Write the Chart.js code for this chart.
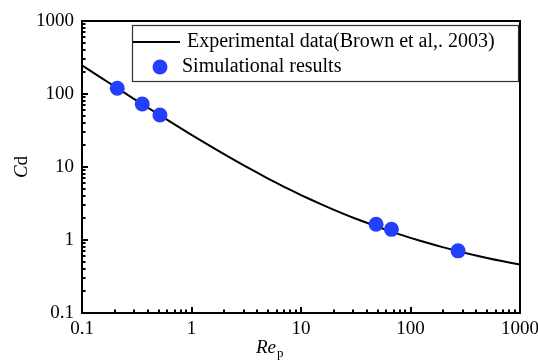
<!DOCTYPE html>
<html lang="en">
<head>
    <meta charset="UTF-8">
    <title>Cd vs Rep</title>
    <script src="https://cdn.jsdelivr.net/npm/chart.js@4.4.1/dist/chart.umd.min.js"></script>
    <style>
        html, body { margin: 0; padding: 0; background: #fff; }
        #wrap { width: 538px; height: 360px; }
    </style>
</head>
<body>
<div id="wrap"><canvas id="cdchart" width="538" height="360"></canvas></div>
<script>
// experimental curve (Brown et al., 2003)
const reCurve = [0.1, 0.15, 0.2, 0.3, 0.5, 0.7, 1, 1.5, 2, 3, 5, 7, 10, 15, 20, 30, 50, 70, 100, 150, 200, 300, 500, 700, 1000];
const cdCurve = [247.5, 166.6, 126.0, 85.3, 52.5, 38.3, 27.6, 19.16, 14.89, 10.54, 6.95, 5.36, 4.13, 3.12, 2.59, 2.02, 1.52, 1.27, 1.07, 0.895, 0.793, 0.677, 0.566, 0.510, 0.463];

// simulation points
const reSim = [0.21, 0.355, 0.515, 48.5, 67, 272];
const cdSim = [120, 73, 51.5, 1.64, 1.40, 0.71];

// axis ticks
const xMajor = [0.1, 1, 10, 100, 1000];
const xTickLabels = ['0.1', '1', '10', '100', '1000'];
const yMajor = [0.1, 1, 10, 100, 1000];
const yTickLabels = ['0.1', '1', '10', '100', '1000'];

const serif = '"Liberation Serif", "Times New Roman", serif';
const blue = '#2240fb';

function allTicks(majors) {
    var out = [];
    for (var i = 0; i < majors.length; i++) {
        out.push(majors[i]);
        if (i < majors.length - 1) {
            for (var k = 2; k <= 9; k++) out.push(Number((majors[i] * k).toPrecision(3)));
        }
    }
    return out;
}

function majorIndex(majors, v) {
    for (var i = 0; i < majors.length; i++) {
        if (Math.abs(v - majors[i]) / majors[i] < 1e-6) return i;
    }
    return -1;
}

const framePlugin = {
    id: 'frame',
    afterDraw(chart) {
        const ctx = chart.ctx;
        const a = chart.chartArea;
        const xs = chart.scales.x, ys = chart.scales.y;
        ctx.save();
        ctx.strokeStyle = '#000';
        ctx.lineWidth = 2;
        // inward ticks
        ctx.beginPath();
        xs.ticks.forEach(function (t) {
            const px = Math.round(xs.getPixelForValue(t.value)) ;
            const len = majorIndex(xMajor, t.value) >= 0 ? 6 : 3.5;
            ctx.moveTo(px, a.bottom);
            ctx.lineTo(px, a.bottom - len);
        });
        ys.ticks.forEach(function (t) {
            const py = Math.round(ys.getPixelForValue(t.value));
            const len = majorIndex(yMajor, t.value) >= 0 ? 6 : 3.5;
            ctx.moveTo(a.left, py);
            ctx.lineTo(a.left + len, py);
        });
        ctx.stroke();
        // frame
        ctx.strokeRect(a.left, a.top, a.right - a.left, a.bottom - a.top);

        // legend
        ctx.lineWidth = 1.2;
        ctx.strokeStyle = '#333';
        ctx.strokeRect(132.5, 25.5, 386, 56);
        ctx.strokeStyle = '#000';
        ctx.lineWidth = 2;
        ctx.beginPath();
        ctx.moveTo(133, 42);
        ctx.lineTo(180, 42);
        ctx.stroke();
        ctx.fillStyle = blue;
        ctx.beginPath();
        ctx.arc(160, 67, 7.5, 0, Math.PI * 2);
        ctx.fill();
        ctx.fillStyle = '#000';
        ctx.font = '20px ' + serif;
        ctx.textBaseline = 'middle';
        ctx.textAlign = 'left';
        ctx.fillText(chart.data.datasets[0].label, 187, 42);
        ctx.fillText(chart.data.datasets[1].label, 182, 67);

        // axis titles
        ctx.font = 'italic 19px ' + serif;
        ctx.textBaseline = 'alphabetic';
        const rw = ctx.measureText('Re').width;
        const tx = 256, ty = 353;
        ctx.fillText('Re', tx, ty);
        ctx.font = '13px ' + serif;
        ctx.fillText('p', tx + rw + 1, ty + 4);

        ctx.translate(27, (a.top + a.bottom) / 2);
        ctx.rotate(-Math.PI / 2);
        ctx.font = 'italic 19px ' + serif;
        const cw = ctx.measureText('C').width;
        ctx.font = '19px ' + serif;
        const dw = ctx.measureText('d').width;
        const sx = -(cw + dw) / 2;
        ctx.font = 'italic 19px ' + serif;
        ctx.fillText('C', sx, 0);
        ctx.font = '19px ' + serif;
        ctx.fillText('d', sx + cw, 0);
        ctx.restore();
    }
};

const ctx = document.getElementById('cdchart').getContext('2d');
new Chart(ctx, {
    type: 'scatter',
    data: {
        datasets: [
            {
                label: 'Experimental data(Brown et al,. 2003)',
                data: reCurve.map(function (r, i) { return { x: r, y: cdCurve[i] }; }),
                showLine: true,
                borderColor: '#000',
                borderWidth: 2,
                pointRadius: 0,
                tension: 0.2,
                order: 2
            },
            {
                label: 'Simulational results',
                data: reSim.map(function (r, i) { return { x: r, y: cdSim[i] }; }),
                showLine: false,
                pointRadius: 7.5,
                pointBackgroundColor: blue,
                pointBorderColor: blue,
                pointBorderWidth: 0,
                order: 1
            }
        ]
    },
    options: {
        responsive: false,
        animation: false,
        devicePixelRatio: 1,
        layout: { padding: { left: 0, top: 21, right: 18, bottom: 0 } },
        plugins: { legend: { display: false }, tooltip: { enabled: false } },
        scales: {
            x: {
                type: 'logarithmic',
                min: 0.1,
                max: 1000,
                grid: { display: false, drawTicks: false },
                border: { display: false },
                afterBuildTicks: function (s) { s.ticks = allTicks(xMajor).map(function (v) { return { value: v }; }); },
                afterFit: function (s) { s.height = 47; s.paddingLeft = 0; s.paddingRight = 0; },
                ticks: {
                    autoSkip: false,
                    maxRotation: 0,
                    padding: 5,
                    color: '#000',
                    font: { family: serif, size: 19 },
                    callback: function (v) { const i = majorIndex(xMajor, v); return i >= 0 ? xTickLabels[i] : ''; }
                }
            },
            y: {
                type: 'logarithmic',
                min: 0.1,
                max: 1000,
                grid: { display: false, drawTicks: false },
                border: { display: false },
                afterBuildTicks: function (s) { s.ticks = allTicks(yMajor).map(function (v) { return { value: v }; }); },
                afterFit: function (s) { s.width = 82; s.paddingTop = 0; s.paddingBottom = 0; },
                ticks: {
                    autoSkip: false,
                    padding: 8,
                    color: '#000',
                    font: { family: serif, size: 19 },
                    callback: function (v) { const i = majorIndex(yMajor, v); return i >= 0 ? yTickLabels[i] : ''; }
                }
            }
        }
    },
    plugins: [framePlugin]
});
</script>
</body>
</html>
